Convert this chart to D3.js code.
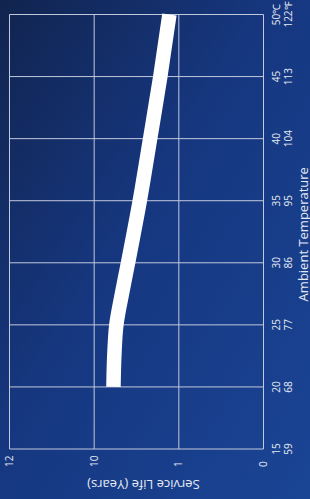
<!DOCTYPE html>
<html>
<head>
<meta charset="utf-8">
<script src="https://cdn.jsdelivr.net/npm/d3@7"></script>
<style>
  html, body { margin: 0; padding: 0; background: #15306e; }
  svg { display: block; }
</style>
</head>
<body>
<div id="chart"></div>
<script>
// temperature axis (°C with °F below)
const tempC = [15, 20, 25, 30, 35, 40, 45, 50];
const tempF = [59, 68, 77, 86, 95, 104, 113, 122];
// service life axis ticks (uneven labels, evenly spaced)
const lifeTicks = [0, 1, 10, 12];
// curve readings
const curveTemp = [20, 22.5, 25, 27.5, 30, 35, 40, 45, 50];
const curveLife = [7.95, 7.86, 7.64, 7.05, 6.4, 5.15, 4.05, 2.97, 2.0];

const cw = 310, ch = 499;
// chart is drawn upright then turned a quarter turn counter-clockwise
const W = ch, H = cw;
const margin = { top: 9.5, right: 14.5, bottom: 46.5, left: 50 };

const svg = d3.select('#chart').append('svg')
  .attr('width', cw).attr('height', ch);

const defs = svg.append('defs');
const grad = defs.append('linearGradient')
  .attr('id', 'bg').attr('x1', 0).attr('y1', 0).attr('x2', 1).attr('y2', 1);
grad.append('stop').attr('offset', '0%').attr('stop-color', '#11244f');
grad.append('stop').attr('offset', '45%').attr('stop-color', '#163780');
grad.append('stop').attr('offset', '100%').attr('stop-color', '#1a4595');

svg.append('rect').attr('width', cw).attr('height', ch).attr('fill', 'url(#bg)');

const g = svg.append('g')
  .attr('transform', `translate(0,${ch}) rotate(-90)`);

const x = d3.scaleLinear()
  .domain([15, 50])
  .range([margin.left, W - margin.right]);

const y = d3.scaleLinear()
  .domain(lifeTicks)
  .range(lifeTicks.map((d, i) => (H - margin.bottom) - i * ((H - margin.bottom - margin.top) / (lifeTicks.length - 1))));

const gridColor = '#c3c9dc';
const textColor = '#e6eaf4';
const font = 'Open Sans, Liberation Sans, sans-serif';

// Grid
g.selectAll('.vgrid')
  .data(tempC)
  .join('line')
  .attr('x1', d => x(d)).attr('x2', d => x(d))
  .attr('y1', y(12)).attr('y2', y(0))
  .attr('stroke', gridColor).attr('stroke-width', 1);

g.selectAll('.hgrid')
  .data(lifeTicks)
  .join('line')
  .attr('x1', x(15)).attr('x2', x(50))
  .attr('y1', d => y(d)).attr('y2', d => y(d))
  .attr('stroke', gridColor).attr('stroke-width', 1);

// Curve
const pts = curveTemp.map((t, i) => [t, curveLife[i]]);
const line = d3.line()
  .x(d => x(d[0]))
  .y(d => y(d[1]))
  .curve(d3.curveMonotoneX);

g.append('path')
  .datum(pts)
  .attr('d', line)
  .attr('fill', 'none')
  .attr('stroke', '#ffffff')
  .attr('stroke-width', 14.5)
  .attr('stroke-linecap', 'butt');

// Temperature tick labels
const tl = g.selectAll('.tlab')
  .data(tempC)
  .join('text')
  .attr('x', d => x(d))
  .attr('text-anchor', 'middle')
  .attr('font-family', font)
  .attr('font-size', 10)
  .attr('fill', textColor);

tl.append('tspan')
  .attr('x', d => x(d))
  .attr('y', H - margin.bottom + 16)
  .text(d => d === 50 ? d + '℃' : d);
tl.append('tspan')
  .attr('x', d => x(d))
  .attr('y', H - margin.bottom + 28)
  .text((d, i) => i === tempC.length - 1 ? tempF[i] + '℉' : tempF[i]);

// Service life tick labels
g.selectAll('.llab')
  .data(lifeTicks)
  .join('text')
  .attr('x', margin.left - 18)
  .attr('y', d => y(d))
  .attr('dy', '0.35em')
  .attr('text-anchor', 'start')
  .attr('font-family', font)
  .attr('font-size', 10)
  .attr('fill', textColor)
  .text(d => d);

// Axis titles
g.append('text')
  .attr('x', x(32.3))
  .attr('y', H - 2.5)
  .attr('text-anchor', 'middle')
  .attr('font-family', font)
  .attr('font-size', 13)
  .attr('fill', textColor)
  .text('Ambient Temperature');

g.append('text')
  .attr('transform', `translate(14,${(y(12) + y(0)) / 2 + 7}) rotate(-90)`)
  .attr('dy', '0.35em')
  .attr('text-anchor', 'middle')
  .attr('font-family', font)
  .attr('font-size', 13)
  .attr('fill', textColor)
  .text('Service Life (Years)');
</script>
</body>
</html>
